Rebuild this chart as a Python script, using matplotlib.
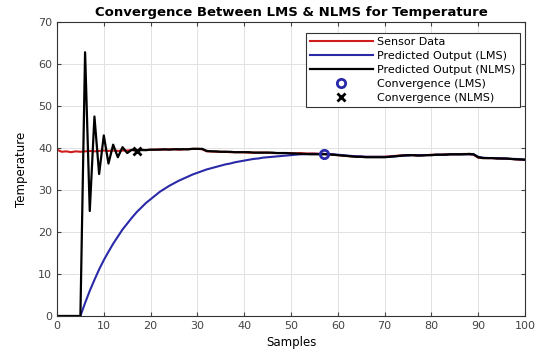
import numpy as np
import matplotlib
matplotlib.use("Agg")
import matplotlib.pyplot as plt

plt.rcParams['font.family'] = ['DejaVu Sans']

samples = np.arange(0, 101)

sensor = [39.6, 39.1, 39.2, 39.0, 39.2, 39.1, 39.2, 39.3, 39.2, 39.3,
          39.4, 39.3, 39.4, 39.3, 39.4, 39.4, 39.5, 39.5, 39.6, 39.5,
          39.6, 39.6, 39.7, 39.6, 39.7, 39.7, 39.6, 39.7, 39.7, 39.8,
          39.8, 39.7, 39.2, 39.2, 39.1, 39.1, 39.1, 39.0, 39.0, 39.0,
          39.0, 38.9, 38.9, 38.9, 38.9, 38.9, 38.8, 38.8, 38.8, 38.8,
          38.8, 38.7, 38.8, 38.7, 38.7, 38.7, 38.6, 38.6, 38.5, 38.4,
          38.3, 38.2, 38.1, 38.0, 38.0, 37.9, 37.9, 37.9, 37.9, 37.9,
          37.9, 38.0, 38.1, 38.2, 38.3, 38.3, 38.3, 38.2, 38.3, 38.3,
          38.4, 38.4, 38.4, 38.5, 38.5, 38.5, 38.5, 38.6, 38.5, 38.4,
          37.7, 37.6, 37.6, 37.6, 37.5, 37.5, 37.4, 37.4, 37.3, 37.2,
          37.2]

lms = [0, 0, 0, 0, 0, 0, 3.1, 6.0, 8.6, 11.1,
       13.3, 15.3, 17.2, 18.9, 20.6, 22.0, 23.4, 24.7, 25.8, 26.9,
       27.8, 28.7, 29.6, 30.3, 31.0, 31.6, 32.2, 32.7, 33.2, 33.7,
       34.1, 34.5, 34.9, 35.2, 35.5, 35.8, 36.1, 36.3, 36.6, 36.8,
       37.0, 37.2, 37.4, 37.5, 37.7, 37.8, 37.9, 38.0, 38.1, 38.2,
       38.3, 38.4, 38.5, 38.5, 38.6, 38.6, 38.6, 38.6, 38.5, 38.5,
       38.4, 38.3, 38.2, 38.1, 38.0, 38.0, 37.9, 37.9, 37.9, 37.9,
       37.9, 37.9, 38.0, 38.1, 38.2, 38.2, 38.3, 38.3, 38.3, 38.3,
       38.3, 38.4, 38.4, 38.4, 38.5, 38.5, 38.5, 38.5, 38.5, 38.5,
       37.9, 37.7, 37.6, 37.6, 37.6, 37.5, 37.5, 37.4, 37.4, 37.3,
       37.2]

nlms = [0, 0, 0, 0, 0, 0, 62.8, 25.0, 47.5, 33.8,
        43.0, 36.3, 40.8, 37.8, 40.2, 38.8, 39.6, 39.3, 39.5, 39.5,
        39.6, 39.6, 39.6, 39.7, 39.6, 39.7, 39.7, 39.7, 39.7, 39.8,
        39.8, 39.8, 39.3, 39.2, 39.2, 39.1, 39.1, 39.1, 39.0, 39.0,
        39.0, 39.0, 38.9, 38.9, 38.9, 38.9, 38.9, 38.8, 38.8, 38.8,
        38.7, 38.7, 38.6, 38.6, 38.5, 38.5, 38.5, 38.5, 38.5, 38.4,
        38.3, 38.2, 38.1, 38.0, 37.9, 37.9, 37.8, 37.8, 37.8, 37.8,
        37.8, 37.9, 38.0, 38.1, 38.2, 38.3, 38.3, 38.2, 38.2, 38.3,
        38.3, 38.4, 38.4, 38.4, 38.5, 38.5, 38.5, 38.5, 38.6, 38.5,
        37.8, 37.6, 37.6, 37.6, 37.5, 37.5, 37.5, 37.4, 37.3, 37.3,
        37.2]

conv_lms = 57
conv_nlms = 17

fig = plt.figure(figsize=(5.39, 3.56), dpi=100)
ax = fig.add_axes([57/539, 1 - 316/356, 468/539, 294/356])

ax.plot(samples, sensor, color='#d01c1c', lw=1.5, label='Sensor Data')
ax.plot(samples, lms, color='#2a2aa8', lw=1.5, label='Predicted Output (LMS)')
ax.plot(samples, nlms, color='black', lw=1.6, label='Predicted Output (NLMS)')
ax.plot(conv_lms, lms[conv_lms], 'o', color='#2a2aa8', ms=6, mfc='none',
        mew=2, label='Convergence (LMS)')
ax.plot(conv_nlms, nlms[conv_nlms], 'x', color='black', ms=6, mew=2,
        label='Convergence (NLMS)')

ax.set_xlim(0, 100)
ax.set_ylim(0, 70)
ax.set_xticks(np.arange(0, 101, 10))
ax.set_yticks(np.arange(0, 71, 10))
ax.grid(True, color='#e2e2e2', lw=0.7)
ax.set_axisbelow(True)
ax.tick_params(direction='in', length=3, labelsize=8, colors='#444444',
               top=True, right=True)
for s in ax.spines.values():
    s.set_color('#333333')
    s.set_linewidth(0.8)

ax.set_title('Convergence Between LMS & NLMS for Temperature',
             fontsize=9.5, fontweight='bold', pad=4)
ax.set_xlabel('Samples', fontsize=8.5, labelpad=4)
ax.set_ylabel('Temperature', fontsize=8.5, labelpad=7)

leg = ax.legend(loc='upper right', bbox_to_anchor=(0.989, 0.963),
                borderaxespad=0, fontsize=8, handlelength=5.6,
                handletextpad=0.4, labelspacing=0.35, borderpad=0.4,
                fancybox=False, framealpha=1, edgecolor='#333333')
leg.get_frame().set_linewidth(0.8)

fig.savefig('out.png', dpi=100)
